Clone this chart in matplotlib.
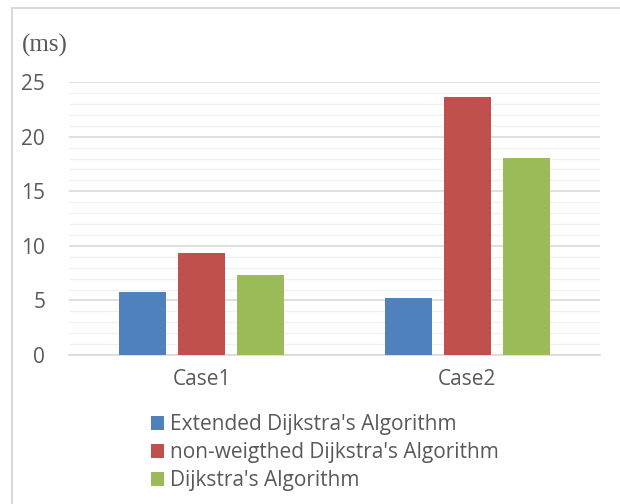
import numpy as np
import matplotlib
matplotlib.use("Agg")
import matplotlib.pyplot as plt
from matplotlib.lines import Line2D
from matplotlib.patches import Patch

cases = ['Case1', 'Case2']
series = ["Extended Dijkstra's Algorithm",
          "non-weigthed Dijkstra's Algorithm",
          "Dijkstra's Algorithm"]
extended = [5.8, 5.2]
nonweighted = [9.35, 23.6]
dijkstra = [7.3, 18.05]
colors = ['#4f81bd', '#c0504d', '#9bbb59']

fig = plt.figure(figsize=(6.2, 5.04), dpi=100)
ax = fig.add_axes([0.111, 0.2956, 0.857, 0.5415])

x = np.arange(len(cases))
w = 0.175
step = 0.222
for i, (vals, c) in enumerate(zip([extended, nonweighted, dijkstra], colors)):
    ax.bar(x + (i - 1) * step, vals, w, color=c, zorder=3)

ax.set_xlim(-0.5, 1.5)
ax.set_ylim(0, 25)
ax.set_yticks(np.arange(0, 26, 5))
ax.set_yticks(np.arange(0, 26, 1), minor=True)
ax.grid(axis='y', which='major', color='#d9d9d9', linewidth=1.2, zorder=0)
ax.grid(axis='y', which='minor', color='#f0f0f0', linewidth=1.0, zorder=0)
ax.set_xticks(x)
ax.set_xticklabels(cases)
for s in ['top', 'right', 'left']:
    ax.spines[s].set_visible(False)
ax.spines['bottom'].set_color('#d9d9d9')
ax.spines['bottom'].set_linewidth(1.2)
ax.tick_params(which='both', length=0)
ax.tick_params(axis='y', pad=17, labelsize=15, labelcolor='#595959')
ax.tick_params(axis='x', pad=10, labelsize=15, labelcolor='#595959')
for lab in ax.get_xticklabels() + ax.get_yticklabels():
    lab.set_family('Open Sans')

fig.text(0.035, 0.91, '(ms)', family='Liberation Serif', fontsize=18,
         color='#595959', va='center', ha='left')

handles = [Patch(facecolor=c, edgecolor='none') for c in colors]
leg = fig.legend(handles, series, loc='upper left', bbox_to_anchor=(0.243, 0.178),
                 frameon=False, prop={'family': 'Open Sans', 'size': 15},
                 handlelength=0.65, handleheight=0.65, handletextpad=0.3,
                 labelspacing=0.33, borderpad=0, borderaxespad=0)
for t in leg.get_texts():
    t.set_color('#595959')

# outer frame (left and top edges only)
fig.add_artist(Line2D([0.019, 0.019], [0, 0.984], color='#d9d9d9', lw=1.5,
                      transform=fig.transFigure))
fig.add_artist(Line2D([0.019, 1.0], [0.984, 0.984], color='#d9d9d9', lw=1.5,
                      transform=fig.transFigure))

fig.savefig('out.png', dpi=100)
